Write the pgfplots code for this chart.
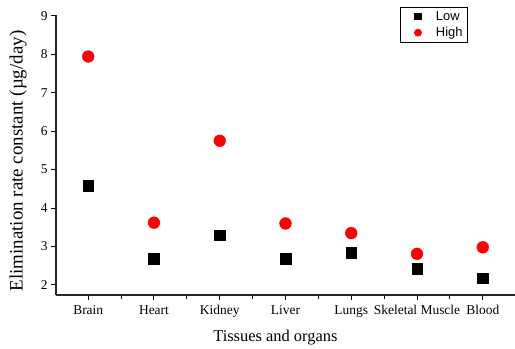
\documentclass[border=0pt]{standalone}
\usepackage{pgfplots}
\pgfplotsset{compat=1.18}
\usepackage{fontspec}
\setmainfont{Liberation Serif}
\newfontfamily\arialfont{Liberation Sans}
\begin{document}
\begin{tikzpicture}
\begin{axis}[
  name=ax, at={(0,0)}, anchor=south west,
  scale only axis, width=459bp, height=280bp,
  axis lines=left, axis line style={-, line width=1.1bp, black!85},
  xmin=-0.49, xmax=6.49, ymin=1.74, ymax=9.02,
  xtick={0,...,6},
  xticklabels={Brain,Heart,Kidney,Liver,Lungs,Skeletal Muscle,Blood},
  minor xtick={0.5,1.5,2.5,3.5,4.5,5.5},
  ytick={2,...,9},
  tick align=outside, major tick length=5bp, minor tick length=3.5bp,
  tick style={line width=1bp, black},
  ticklabel style={font=\fontsize{13.5}{15}\selectfont},
  xticklabel style={yshift=-2bp},
  /pgf/number format/assume math mode=true,
  xlabel={Tissues and organs},
  ylabel={Elimination rate constant (µg/day)},
  xlabel style={font=\fontsize{16.5}{19}\selectfont, at={(axis description cs:0.478,-0.1536)}, anchor=center},
  ylabel style={font=\fontsize{19}{22}\selectfont, at={(axis description cs:-0.0828,0.4786)}, anchor=center},
  legend style={at={(0.8976,1.0286)}, anchor=north east,
    font=\arialfont\fontsize{13}{15}\selectfont, draw=black, line width=0.8bp,
    inner xsep=3bp, inner ysep=2bp, row sep=1.5bp},
  legend cell align=left,
  legend image code/.code={\path[draw=none] (-15bp,0bp) -- (16bp,0bp); \draw[#1] plot coordinates {(0bp,0bp)};},
]
\addplot[only marks, mark=square*, mark size=5.3bp, black, forget plot] coordinates {
 (0,4.58) (1,2.68) (2,3.29) (3,2.68) (4,2.84) (5,2.42) (6,2.18)};
\addplot[only marks, mark=*, mark size=5.9bp, red, mark options={draw=red, fill=red}, forget plot] coordinates {
 (0,7.94) (1,3.62) (2,5.75) (3,3.60) (4,3.35) (5,2.81) (6,2.98)};
\addlegendimage{only marks, mark=square*, mark size=3.3bp, black}
\addlegendentry{Low}
\addlegendimage{only marks, mark=*, mark size=3.5bp, red, mark options={draw=red, fill=red}}
\addlegendentry{High}
\end{axis}
\pgfresetboundingbox
\path ([xshift=-56bp,yshift=-54bp]ax.south west) rectangle ([yshift=15bp]ax.north east);
\end{tikzpicture}
\end{document}
